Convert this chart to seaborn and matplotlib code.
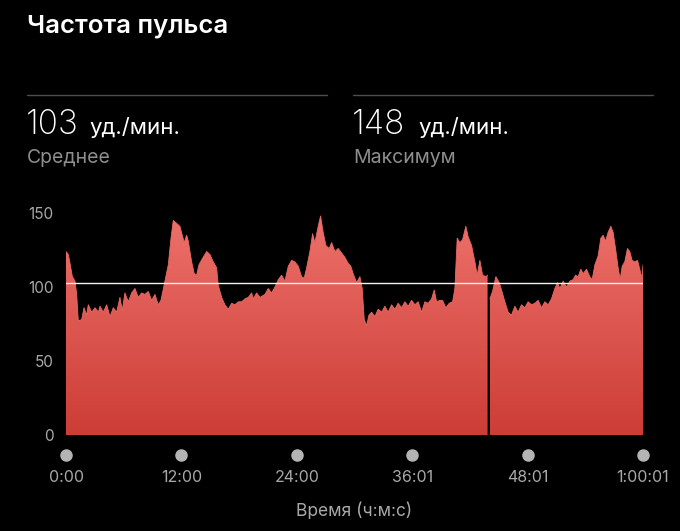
import numpy as np
import pandas as pd
import seaborn as sns
import matplotlib.pyplot as plt
from matplotlib.colors import LinearSegmentedColormap
from matplotlib.lines import Line2D
from matplotlib.path import Path
import matplotlib.transforms as mtransforms

# heart rate trace, minutes from start -> beats per minute
minutes = [0.0, 0.24, 0.42, 0.66, 0.94, 1.11, 1.28, 1.63, 1.87, 2.15, 2.32, 2.67, 3.02, 3.36,
           3.54, 3.88, 4.23, 4.58, 4.92, 5.27, 5.61, 5.85, 6.13, 6.48, 6.83, 7.17, 7.52, 7.87,
           8.21, 8.56, 8.91, 9.25, 9.60, 9.88, 10.29, 10.64, 10.92, 11.16, 11.51, 11.85, 12.09,
           12.30, 12.55, 12.72, 13.07, 13.34, 13.59, 13.83, 14.17, 14.63, 14.97, 15.32, 15.67,
           15.84, 16.19, 16.53, 16.88, 17.23, 17.57, 17.92, 18.27, 18.61, 18.96, 19.31, 19.48,
           19.83, 20.17, 20.69, 21.04, 21.39, 21.73, 22.08, 22.43, 22.77, 23.12, 23.47, 23.81,
           24.16, 24.51, 24.78, 25.03, 25.37, 25.65, 25.89, 26.23, 26.48, 26.75, 27.04, 27.38,
           27.63, 27.97, 28.31, 28.67, 29.01, 29.35, 29.63, 29.87, 30.23, 30.57, 30.81, 31.02,
           31.27, 31.51, 31.79, 32.13, 32.47, 32.83, 33.17, 33.51, 33.87, 34.21, 34.55, 34.91,
           35.25, 35.59, 35.95, 36.29, 36.63, 36.99, 37.33, 37.67, 38.03, 38.30, 38.55, 38.89,
           39.17, 39.51, 39.86, 40.21, 40.45, 40.69, 40.97, 41.25, 41.59, 41.83, 42.19, 42.53,
           42.77, 43.05, 43.33, 43.67, 43.85,
           44.09, 44.37, 44.71, 45.06, 45.30, 45.65, 45.99, 46.34, 46.69, 47.03, 47.38, 47.73,
           48.07, 48.42, 48.77, 49.11, 49.46, 49.81, 50.15, 50.50, 50.85, 51.13, 51.37, 51.71,
           52.06, 52.41, 52.75, 53.00, 53.27, 53.55, 53.79, 54.14, 54.48, 54.73, 55.01, 55.35,
           55.63, 55.87, 56.12, 56.39, 56.67, 56.91, 57.16, 57.43, 57.64, 57.85, 58.12, 58.40,
           58.64, 58.88, 59.17, 59.45, 59.68, 59.92, 60.0167]
bpm = [124, 122, 116, 107, 104, 95, 77, 78, 86, 81, 88, 83, 86, 83,
       87, 83, 88, 80, 86, 83, 93, 84, 96, 90, 96, 99, 93, 96,
       95, 97, 91, 95, 88, 91, 104, 115, 133, 145, 143, 141, 135,
       130, 135, 131, 117, 109, 108, 115, 119, 124, 122, 117, 113,
       101, 93, 88, 85, 89, 88, 90, 90, 92, 93, 96, 92,
       96, 93, 95, 99, 96, 100, 105, 108, 104, 114, 118, 117,
       114, 107, 106, 113, 124, 136, 130, 141, 148, 137, 128, 126,
       130, 124, 126, 123, 120, 116, 114, 109, 103, 107, 99, 78,
       74, 81, 83, 80, 85, 83, 87, 83, 88, 85, 89, 86,
       90, 87, 91, 88, 90, 83, 90, 89, 92, 98, 90, 91,
       91, 86, 89, 90, 99, 133, 130, 132, 141, 134, 128, 117,
       108, 118, 108, 107, 108,
       92, 97, 107, 103, 98, 90, 83, 81, 87, 83, 88, 86,
       90, 88, 89, 91, 86, 90, 88, 92, 99, 103, 99, 104,
       100, 104, 105, 108, 107, 112, 109, 112, 107, 105, 115, 121,
       133, 135, 131, 137, 141, 137, 126, 113, 105, 114, 117, 126,
       124, 118, 117, 118, 112, 106, 115]
pause_min = 43.9          # recording paused here
avg_bpm = 103
max_bpm = 148
y_ticks = [0, 50, 100, 150]
x_ticks = [0, 12, 24, 36.0167, 48.0167, 60.0167]
x_labels = ['0:00', '12:00', '24:00', '36:01', '48:01', '1:00:01']

W, H = 680, 531
def fx(x):
    return x / W
def fy(y):
    return 1 - y / H

sns.set_theme(style='dark', rc={'axes.facecolor': 'black', 'figure.facecolor': 'black'})
plt.rcParams['font.family'] = ['Inter', 'DejaVu Sans']

df = pd.DataFrame({'min': minutes, 'bpm': bpm})
df['part'] = np.where(df['min'] < pause_min, 'before', 'after')

fig = plt.figure(figsize=(W / 100, H / 100), dpi=100)
ax = fig.add_axes([fx(66), fy(435), 577 / W, 222 / H])
ax.set_facecolor('black')

# gradient fill under the trace, one polygon per recording part
top_c, bot_c = '#ee716b', '#cc3d36'
paths = []
for part, g in df.groupby('part', sort=False):
    coll = ax.fill_between(g['min'], g['bpm'], 0, color='none', lw=0)
    paths.extend(coll.get_paths())
clip = Path.make_compound_path(*paths)
cmap = LinearSegmentedColormap.from_list('hr', [bot_c, top_c])
grad = np.linspace(0, 1, 256).reshape(-1, 1)
im = ax.imshow(grad, cmap=cmap, aspect='auto', origin='lower',
               extent=[0, x_ticks[-1], 0, 150], zorder=1)
im.set_clip_path(clip, ax.transData)

sns.lineplot(data=df, x='min', y='bpm', hue='part', palette=['#e96a64', '#e96a64'],
             estimator=None, sort=False, legend=False, lw=0.6, ax=ax, zorder=2)

ax.axhline(avg_bpm, color='#f2f2f2', lw=1, zorder=3)

ax.set_xlim(0, x_ticks[-1])
ax.set_ylim(0, 150)
for s in ax.spines.values():
    s.set_visible(False)
ax.grid(False)

ax.set_yticks(y_ticks)
ax.set_yticklabels([str(v) for v in y_ticks])
ax.tick_params(axis='y', length=0, pad=9, labelsize=11, labelcolor='#a8a8a8')
ax.set_xticks(x_ticks)
ax.set_xticklabels(x_labels)
ax.tick_params(axis='x', length=0, pad=25, labelsize=11.5, labelcolor='#a8a8a8')

# round markers under every time label
trans = mtransforms.blended_transform_factory(ax.transData, ax.transAxes)
ax.plot(x_ticks, [-0.09] * len(x_ticks), 'o', ms=8, color='#b4b4b4',
        transform=trans, clip_on=False)

ax.set_xlabel('Время (ч:м:с)', fontsize=12.5, color='#a8a8a8', labelpad=13)
ax.set_ylabel('')

# header block
fig.text(fx(27), fy(26), 'Частота пульса', fontsize=18.5, weight='semibold',
         color='white', va='center', ha='left')
for x0, x1 in [(27, 327), (353, 653)]:
    fig.add_artist(Line2D([fx(x0), fx(x1)], [fy(95), fy(95)], color='#4d4d4d', lw=1))

fig.text(fx(26), fy(134), str(avg_bpm), fontsize=24, weight='light', color='white', va='baseline')
fig.text(fx(89), fy(134), 'уд./мин.', fontsize=16, color='white', va='baseline')
fig.text(fx(27), fy(163), 'Среднее', fontsize=14, color='#8e8e8e', va='baseline')

fig.text(fx(352), fy(134), str(max_bpm), fontsize=24, weight='light', color='white', va='baseline')
fig.text(fx(418), fy(134), 'уд./мин.', fontsize=16, color='white', va='baseline')
fig.text(fx(353), fy(163), 'Максимум', fontsize=14, color='#8e8e8e', va='baseline')

fig.savefig('out.png', dpi=100, facecolor='black')
